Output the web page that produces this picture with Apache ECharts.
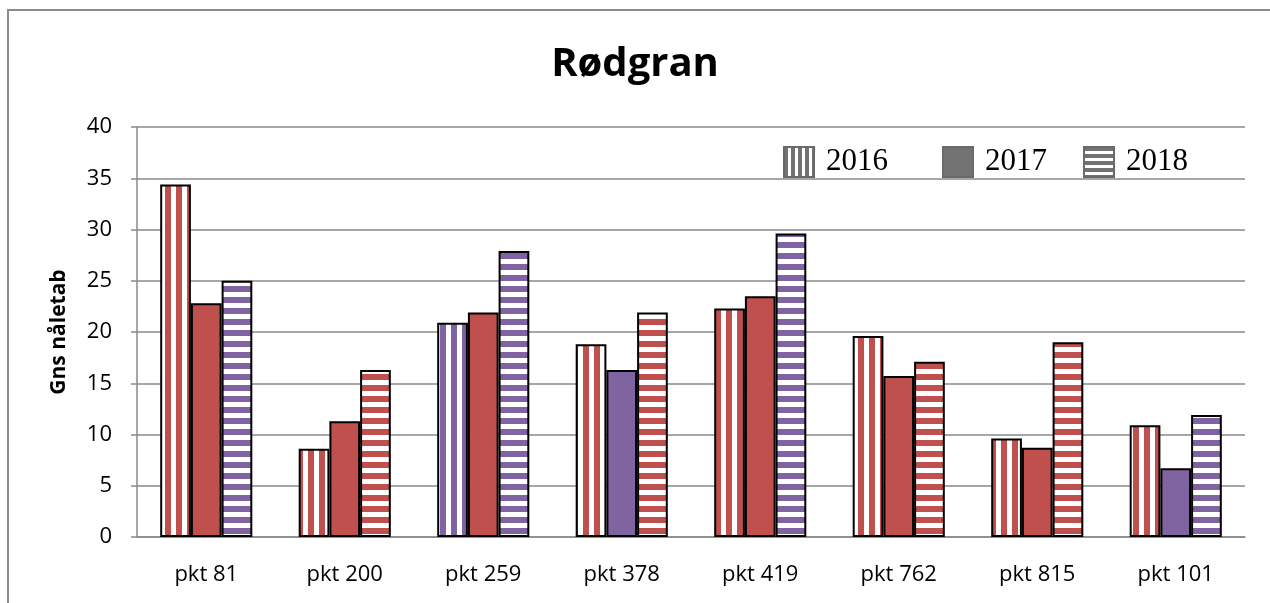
<!DOCTYPE html>
<html>
<head>
<meta charset="utf-8">
<title>Rødgran</title>
<script src="https://cdn.jsdelivr.net/npm/echarts@6/dist/echarts.min.js"></script>
<style>
  html, body { margin: 0; padding: 0; background: #fff; }
  #chart { width: 1270px; height: 603px; }
</style>
</head>
<body>
<div id="chart"></div>
<script>
// data
var categories = ['pkt 81', 'pkt 200', 'pkt 259', 'pkt 378', 'pkt 419', 'pkt 762', 'pkt 815', 'pkt 101'];
var years = ['2016', '2017', '2018'];
var v2016 = [34.4, 8.6, 20.9, 18.8, 22.3, 19.6, 9.6, 10.9];
var v2017 = [22.8, 11.3, 21.9, 16.3, 23.5, 15.7, 8.7, 6.7];
var v2018 = [25.0, 16.3, 27.9, 21.9, 29.6, 17.1, 19.0, 11.9];
// bar colour per point: r = red, p = purple
var c2016 = ['r', 'r', 'p', 'r', 'r', 'r', 'r', 'r'];
var c2017 = ['r', 'r', 'r', 'p', 'r', 'r', 'r', 'p'];
var c2018 = ['p', 'r', 'p', 'r', 'p', 'r', 'r', 'p'];
var yMin = 0, yMax = 40, yStep = 5;

var RED = '#C0504D', PURPLE = '#8064A2', GREY = '#727272';
var FONT = '"Open Sans", "Noto Sans", sans-serif';

// striped fill made on a small canvas, 'v' = vertical stripes, 'h' = horizontal
function stripes(color, dir, period, on) {
  var cv = document.createElement('canvas');
  cv.width = period;
  cv.height = period;
  var ctx = cv.getContext('2d');
  ctx.fillStyle = '#ffffff';
  ctx.fillRect(0, 0, period, period);
  ctx.fillStyle = color;
  if (dir === 'v') ctx.fillRect(0, 0, on, period);
  else ctx.fillRect(0, 0, period, on);
  return { image: cv, repeat: 'repeat' };
}

var fills = {
  '2016': { r: stripes(RED, 'v', 11, 6), p: stripes(PURPLE, 'v', 11, 6) },
  '2017': { r: RED, p: PURPLE },
  '2018': { r: stripes(RED, 'h', 11, 6), p: stripes(PURPLE, 'h', 11, 6) }
};
var legendFills = [stripes(GREY, 'v', 7, 4), GREY, stripes(GREY, 'h', 7, 4)];
var legendLeft = [778, 937, 1078];

var values = [v2016, v2017, v2018];
var keys = [c2016, c2017, c2018];

var chart = echarts.init(document.getElementById('chart'));

chart.setOption({
  backgroundColor: '#ffffff',
  animation: false,
  title: {
    text: 'Rødgran',
    left: 'center',
    top: 40,
    textStyle: { fontFamily: FONT, fontWeight: 'bold', fontSize: 40, color: '#000' }
  },
  legend: years.map(function (y, i) {
    return {
      data: [{ name: y, itemStyle: { color: legendFills[i], borderColor: '#6a6a6a', borderWidth: 2 } }],
      left: legendLeft[i],
      top: 141,
      icon: 'rect',
      itemWidth: 30,
      itemHeight: 30,
      selectedMode: false,
      textStyle: { fontFamily: '"Liberation Serif", serif', fontSize: 31, color: '#000', padding: [0, 0, 0, 7] }
    };
  }),
  graphic: [{
    type: 'rect',
    shape: { x: 8, y: 10, width: 1300, height: 700 },
    style: { fill: 'none', stroke: '#8c8c8c', lineWidth: 2 },
    silent: true
  }],
  grid: { left: 137, right: 25, top: 127, bottom: 66 },
  xAxis: {
    type: 'category',
    data: categories,
    axisLine: { lineStyle: { color: '#8a8a8a', width: 1.5 } },
    axisTick: { length: 8, lineStyle: { color: '#8a8a8a', width: 1.5 } },
    axisLabel: { fontFamily: FONT, fontSize: 22, color: '#000', margin: 27 }
  },
  yAxis: {
    type: 'value',
    min: yMin,
    max: yMax,
    interval: yStep,
    name: 'Gns nåletab',
    nameLocation: 'middle',
    nameGap: 67,
    nameTextStyle: { fontFamily: FONT, fontWeight: 'bold', fontSize: 21, color: '#000' },
    axisLine: { show: true, lineStyle: { color: '#8a8a8a', width: 1.5 } },
    axisTick: { show: true, length: 6, lineStyle: { color: '#8a8a8a', width: 1.5 } },
    axisLabel: { fontFamily: FONT, fontSize: 22, color: '#000', margin: 25 },
    splitLine: { lineStyle: { color: '#8a8a8a', width: 1.5 } }
  },
  series: years.map(function (y, i) {
    return {
      name: y,
      type: 'bar',
      barGap: 0,
      barCategoryGap: '33.5%',
      itemStyle: { color: GREY, borderColor: '#000', borderWidth: 2 },
      emphasis: { disabled: true },
      data: values[i].map(function (v, j) {
        return { value: v, itemStyle: { color: fills[y][keys[i][j]] } };
      })
    };
  })
});
</script>
</body>
</html>
